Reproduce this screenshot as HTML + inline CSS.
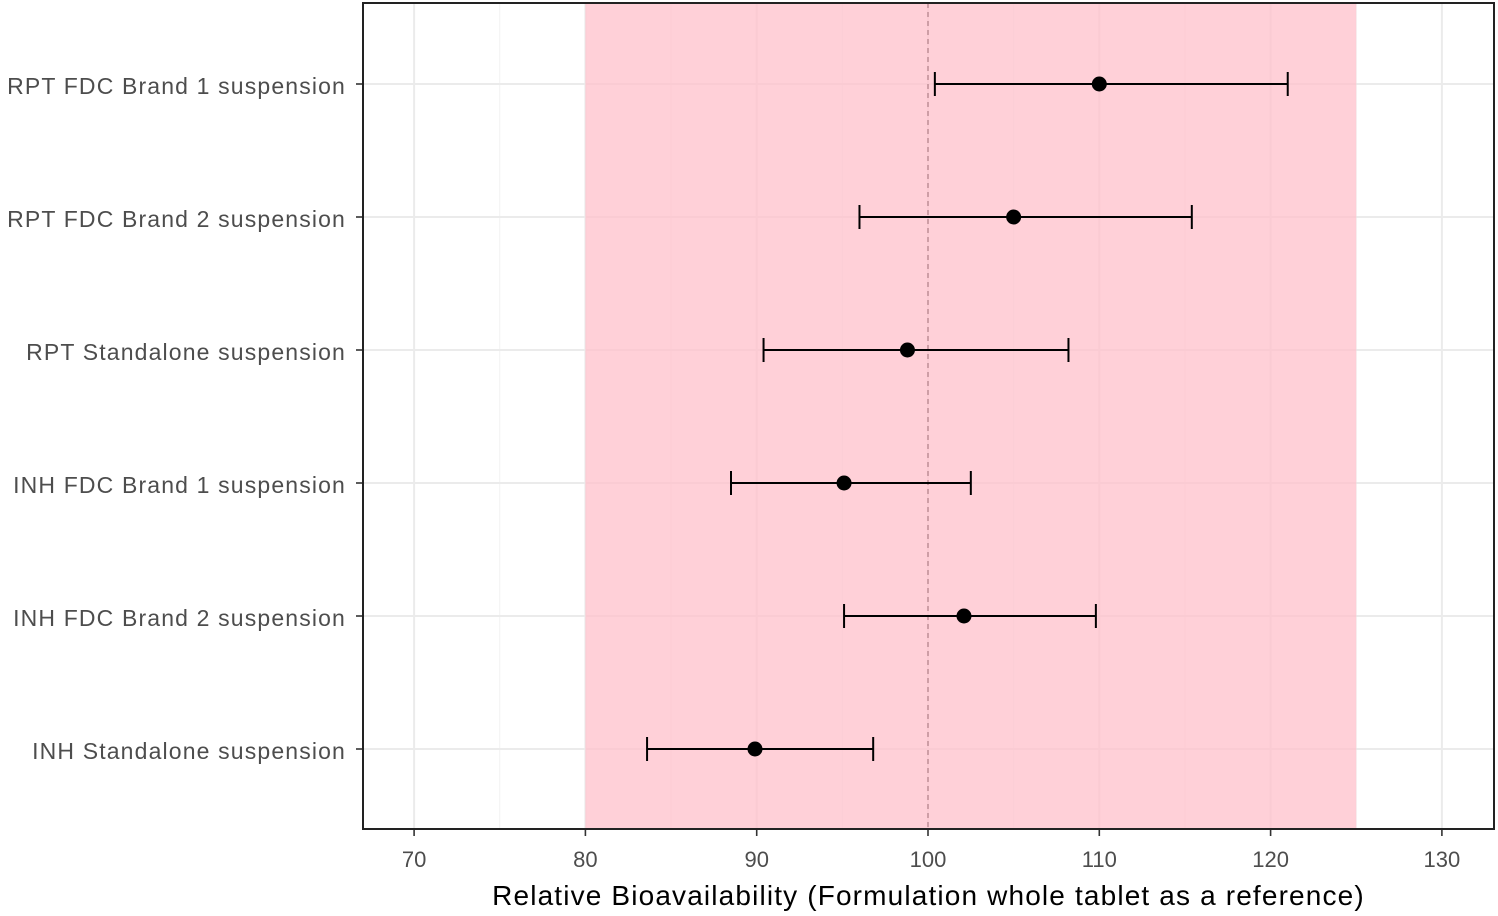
<!DOCTYPE html>
<html><head><meta charset="utf-8"><style>
body{margin:0;background:#fff;}
svg{display:block;font-family:"Liberation Sans",Arial,sans-serif;}
</style></head><body>
<svg id="chart" width="1498" height="916"></svg>
<script>
const categories=["RPT FDC Brand 1 suspension","RPT FDC Brand 2 suspension","RPT Standalone suspension","INH FDC Brand 1 suspension","INH FDC Brand 2 suspension","INH Standalone suspension"];
const estimates=[110.0,105.0,98.8,95.1,102.1,89.9];
const lowerCI=[100.4,96.0,90.4,88.5,95.1,83.6];
const upperCI=[121.0,115.4,108.2,102.5,109.8,96.8];
const xTicks=[70,80,90,100,110,120,130];
const xMinor=[75,85,95,105,115,125];
const bandRange=[80,125];
const refValue=100;

const NS="http://www.w3.org/2000/svg";
const svg=document.getElementById('chart');
const L=363,R=1494,T=3,B=829;
const x=v=>928+(v-100)*17.13;
const y=i=>84+i*133;
function mk(tag,attrs,parent){const e=document.createElementNS(NS,tag);for(const k in attrs)e.setAttribute(k,attrs[k]);(parent||svg).appendChild(e);return e;}

let e=mk('rect',{x:L,y:T,width:R-L,height:B-T,fill:'#fff'});


xMinor.forEach(v=>{const g=mk('line',{x1:x(v),x2:x(v),y1:T,y2:B,stroke:'#f2f2f2','stroke-width':1});

});
xTicks.forEach(v=>{const g=mk('line',{x1:x(v),x2:x(v),y1:T,y2:B,stroke:'#ebebeb','stroke-width':2});

});
categories.forEach((c,i)=>{const g=mk('line',{x1:L,x2:R,y1:y(i),y2:y(i),stroke:'#ebebeb','stroke-width':2});

});
e=mk('rect',{x:x(bandRange[0]),y:T,width:x(bandRange[1])-x(bandRange[0]),height:B-T,fill:'#ffc0cb','fill-opacity':0.75});


e=mk('line',{x1:x(refValue),x2:x(refValue),y1:T,y2:B,stroke:'#b08088','stroke-width':1.2,'stroke-dasharray':'5,4'});


categories.forEach((c,i)=>{
  const yy=y(i);
  let l=mk('line',{x1:x(lowerCI[i]),x2:x(upperCI[i]),y1:yy,y2:yy,stroke:'#000','stroke-width':2});
  
  
  [lowerCI[i],upperCI[i]].forEach(v=>{const t=mk('line',{x1:x(v),x2:x(v),y1:yy-12,y2:yy+12,stroke:'#000','stroke-width':2});
  
  });
  const p=mk('circle',{cx:x(estimates[i]),cy:yy,r:7.5,fill:'#000'});
  
  
  const tk=mk('line',{x1:L-7,x2:L,y1:yy,y2:yy,stroke:'#333','stroke-width':1.6});
  
  
  const tx=mk('text',{x:L-17,y:yy+10,'text-anchor':'end','font-size':23,'letter-spacing':'1.15px',fill:'#4d4d4d'});
  tx.textContent=c;
  
  
});
xTicks.forEach(v=>{
  const tk=mk('line',{x1:x(v),x2:x(v),y1:B,y2:B+7,stroke:'#333','stroke-width':1.6});
  
  
  const tx=mk('text',{x:x(v),y:B+38,'text-anchor':'middle','font-size':22,fill:'#4d4d4d'});
  tx.textContent=v;
  
  
});
e=mk('rect',{x:L,y:T,width:R-L,height:B-T,fill:'none',stroke:'#222','stroke-width':2});


e=mk('text',{x:(L+R)/2,y:905,'text-anchor':'middle','font-size':28,'letter-spacing':'1.15px',fill:'#000'});
e.textContent='Relative Bioavailability (Formulation whole tablet as a reference)';


</script>
</body></html>
